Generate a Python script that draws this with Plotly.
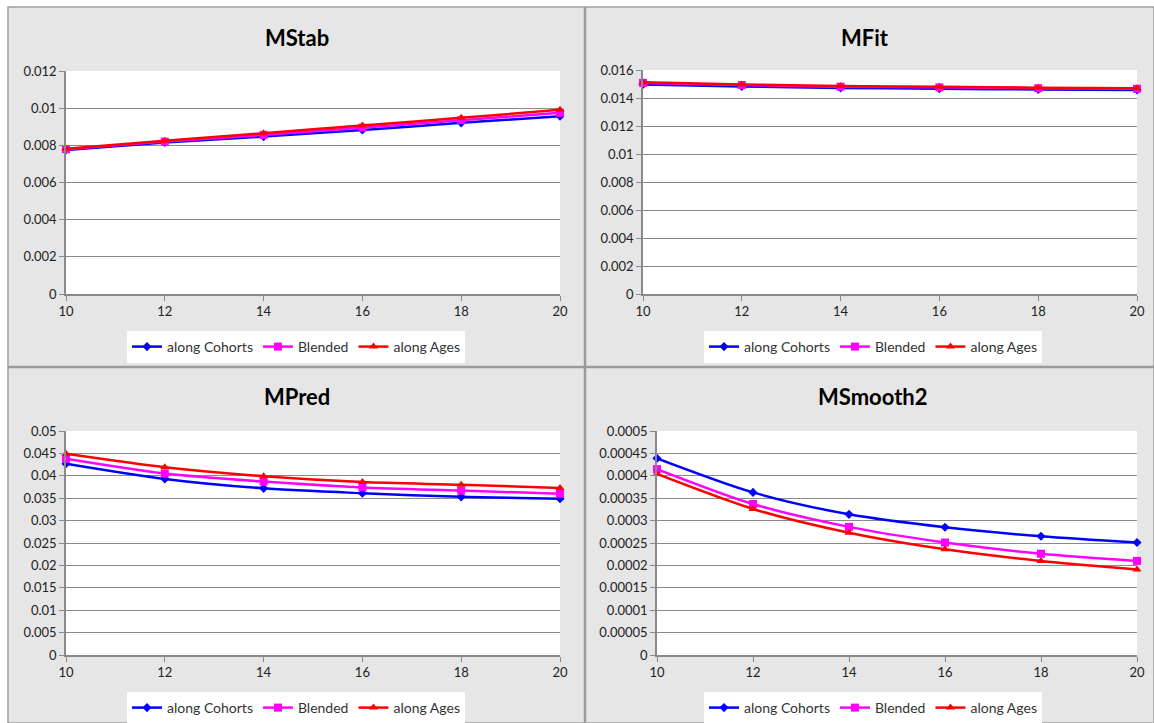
import plotly.graph_objects as go

W, H = 1154, 723

ages = [10, 12, 14, 16, 18, 20]
x_ticks = [10, 12, 14, 16, 18, 20]
series_names = ["along Cohorts", "Blended", "along Ages"]

# MStab
mstab_cohorts = [0.00775, 0.00815, 0.00847, 0.00883, 0.00921, 0.00957]
mstab_blended = [0.00779, 0.00820, 0.00856, 0.00895, 0.00935, 0.00975]
mstab_ages = [0.00782, 0.00825, 0.00865, 0.00907, 0.00948, 0.00991]
# MFit
mfit_cohorts = [0.01497, 0.01482, 0.01472, 0.01466, 0.01461, 0.01458]
mfit_blended = [0.01508, 0.01493, 0.01481, 0.01476, 0.01470, 0.01466]
mfit_ages = [0.01512, 0.01497, 0.01485, 0.01480, 0.01474, 0.01470]
# MPred
mpred_cohorts = [0.0427, 0.0393, 0.0372, 0.0361, 0.0353, 0.0349]
mpred_blended = [0.0438, 0.0405, 0.0387, 0.0374, 0.0367, 0.0360]
mpred_ages = [0.0449, 0.0419, 0.0399, 0.0386, 0.0380, 0.0373]
# MSmooth2
msm_cohorts = [0.000439, 0.000363, 0.000314, 0.000285, 0.000265, 0.000251]
msm_blended = [0.000415, 0.000337, 0.000286, 0.000251, 0.000226, 0.000210]
msm_ages = [0.000404, 0.000326, 0.000273, 0.000236, 0.000210, 0.000191]

titles = ["MStab", "MFit", "MPred", "MSmooth2"]

y1_ticks = [0, 0.002, 0.004, 0.006, 0.008, 0.01, 0.012]
y1_labels = ["0", "0.002", "0.004", "0.006", "0.008", "0.01", "0.012"]
y2_ticks = [0, 0.002, 0.004, 0.006, 0.008, 0.01, 0.012, 0.014, 0.016]
y2_labels = ["0", "0.002", "0.004", "0.006", "0.008", "0.01", "0.012", "0.014", "0.016"]
y3_ticks = [0, 0.005, 0.01, 0.015, 0.02, 0.025, 0.03, 0.035, 0.04, 0.045, 0.05]
y3_labels = ["0", "0.005", "0.01", "0.015", "0.02", "0.025", "0.03", "0.035", "0.04", "0.045", "0.05"]
y4_ticks = [0, 0.00005, 0.0001, 0.00015, 0.0002, 0.00025, 0.0003, 0.00035, 0.0004, 0.00045, 0.0005]
y4_labels = ["0", "0.00005", "0.0001", "0.00015", "0.0002", "0.00025", "0.0003", "0.00035", "0.0004", "0.00045", "0.0005"]

panels = [
    dict(data=[mstab_cohorts, mstab_blended, mstab_ages], yt=y1_ticks, yl=y1_labels, yr=[0, 0.012],
         px=(66, 560), py=(71, 294), title_xy=(297, 37), leg_xy=(296, 331)),
    dict(data=[mfit_cohorts, mfit_blended, mfit_ages], yt=y2_ticks, yl=y2_labels, yr=[0, 0.016],
         px=(643, 1137), py=(70, 294), title_xy=(865, 37), leg_xy=(873, 331)),
    dict(data=[mpred_cohorts, mpred_blended, mpred_ages], yt=y3_ticks, yl=y3_labels, yr=[0, 0.05],
         px=(66, 560), py=(431, 655), title_xy=(297, 396), leg_xy=(296, 692)),
    dict(data=[msm_cohorts, msm_blended, msm_ages], yt=y4_ticks, yl=y4_labels, yr=[0, 0.0005],
         px=(657, 1137), py=(431, 655), title_xy=(873, 396), leg_xy=(873, 692)),
]

colors = ["#0000FF", "#FF00FF", "#FF0000"]
symbols = ["diamond", "square", "triangle-up"]
msizes = [7, 8, 8]
FONT = "Lato, Open Sans, sans-serif"
GRID = "#8a8a8a"

fig = go.Figure()
layout = dict(
    width=W, height=H, margin=dict(l=0, r=0, t=0, b=0, pad=0, autoexpand=False),
    autosize=False,
    paper_bgcolor="white", plot_bgcolor="white",
    font=dict(family=FONT, size=12, color="#222"),
    shapes=[], annotations=[],
)

def px2x(p):
    return p / W

def py2y(p):
    return 1 - p / H

# panel backgrounds
layout["shapes"].append(dict(type="rect", xref="paper", yref="paper", x0=px2x(8), x1=1.0, y0=0.0, y1=py2y(7),
                             fillcolor="#e6e6e6", line=dict(color="#a0a0a0", width=1.5), layer="below"))
layout["shapes"].append(dict(type="line", xref="paper", yref="paper", x0=px2x(585), x1=px2x(585), y0=0, y1=py2y(7),
                             line=dict(color="#9a9a9a", width=2.5), layer="below"))
layout["shapes"].append(dict(type="line", xref="paper", yref="paper", x0=px2x(8), x1=1, y0=py2y(367), y1=py2y(367),
                             line=dict(color="#9a9a9a", width=2.5), layer="below"))

for i, p in enumerate(panels):
    k = i + 1
    xa = "xaxis" if k == 1 else f"xaxis{k}"
    ya = "yaxis" if k == 1 else f"yaxis{k}"
    xr = "x" if k == 1 else f"x{k}"
    yr = "y" if k == 1 else f"y{k}"
    lg = "legend" if k == 1 else f"legend{k}"
    layout["shapes"].append(dict(type="rect", xref="paper", yref="paper",
                                 x0=px2x(p["px"][0]), x1=px2x(p["px"][1]),
                                 y0=py2y(p["py"][1]), y1=py2y(p["py"][0]),
                                 fillcolor="white", line=dict(width=0), layer="below"))
    layout[xa] = dict(domain=[px2x(p["px"][0]), px2x(p["px"][1])], anchor=yr, range=[10, 20],
                      tickvals=x_ticks, ticktext=[str(v) for v in x_ticks], ticks="outside", ticklen=5,
                      tickcolor=GRID, showline=True, linecolor=GRID, linewidth=1.5, showgrid=False,
                      zeroline=False, tickfont=dict(family=FONT, size=13, color="#222"), fixedrange=True,
                      automargin=False)
    layout[ya] = dict(domain=[py2y(p["py"][1]), py2y(p["py"][0])], anchor=xr, range=p["yr"],
                      tickvals=p["yt"], ticktext=p["yl"], ticks="outside", ticklen=5, tickcolor=GRID,
                      showline=True, linecolor=GRID, linewidth=1.5, showgrid=True, gridcolor=GRID,
                      gridwidth=1.2, zeroline=False, tickfont=dict(family=FONT, size=13, color="#222"),
                      fixedrange=True, automargin=False)
    for j in range(3):
        fig.add_trace(go.Scatter(
            x=ages, y=p["data"][j], name=series_names[j], mode="lines+markers",
            line=dict(color=colors[j], width=2.5, shape="spline", smoothing=0.8),
            marker=dict(symbol=symbols[j], size=msizes[j], color=colors[j]),
            xaxis=xr, yaxis=yr, legend=lg, cliponaxis=False,
        ))
    layout[lg] = dict(orientation="h", x=px2x(p["leg_xy"][0]), xanchor="center",
                      y=py2y(p["leg_xy"][1]), yanchor="top", bgcolor="white",
                      font=dict(family=FONT, size=14, color="#333"), itemwidth=30,
                      tracegroupgap=0, borderwidth=0)
    layout["annotations"].append(dict(text=f"<b>{titles[i]}</b>", x=px2x(p["title_xy"][0]),
                                      y=py2y(p["title_xy"][1]), xref="paper", yref="paper",
                                      showarrow=False, xanchor="center", yanchor="middle",
                                      font=dict(family=FONT, size=22, color="black")))

fig.update_layout(**layout)
fig.write_html("out.html", config={"responsive": False, "displayModeBar": False},
               post_script="document.body.style.margin='0';document.body.style.overflow='hidden';")
